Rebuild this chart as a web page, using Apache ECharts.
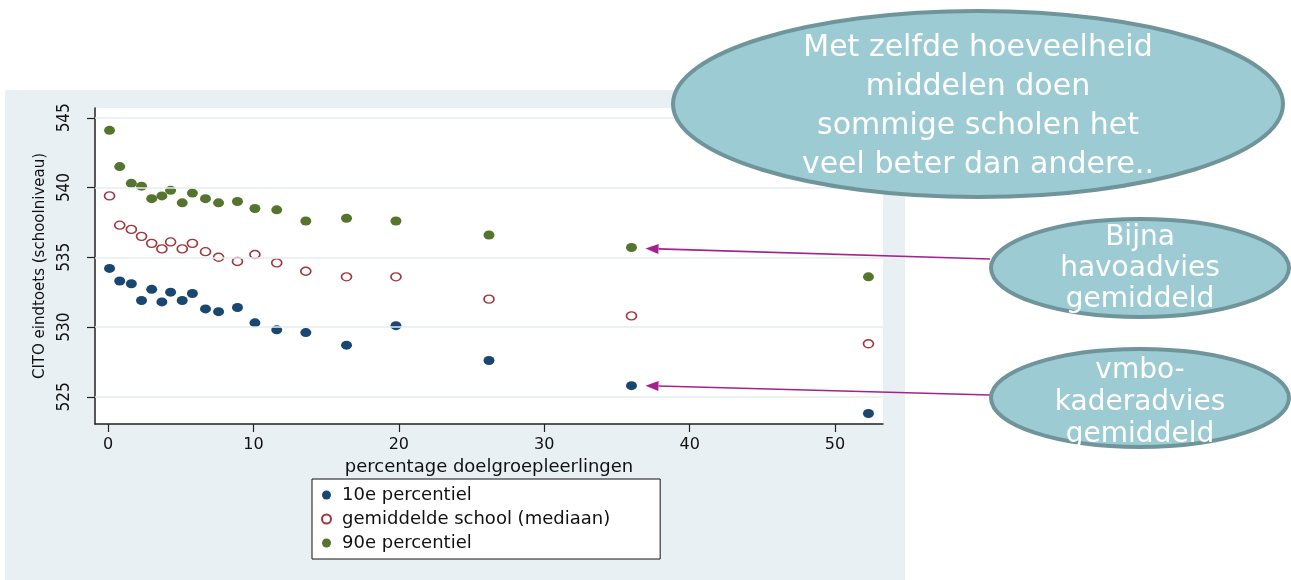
<!DOCTYPE html>
<html>
<head>
<meta charset="utf-8">
<script src="https://cdn.jsdelivr.net/npm/echarts@6/dist/echarts.min.js"></script>
<style>
html,body{margin:0;padding:0;background:#fff;}
#chart{width:1291px;height:580px;}
</style>
</head>
<body>
<div id="chart"></div>
<script>
// x: percentage doelgroepleerlingen
const xValues = [0.1, 0.8, 1.6, 2.3, 3.0, 3.7, 4.3, 5.1, 5.8, 6.7, 7.6, 8.9, 10.1, 11.6, 13.6, 16.4, 19.8, 26.2, 36.0, 52.3];
const p10 = [534.2, 533.3, 533.1, 531.9, 532.7, 531.8, 532.5, 531.9, 532.4, 531.3, 531.1, 531.4, 530.3, 529.8, 529.6, 528.7, 530.1, 527.6, 525.8, 523.8];
const median = [539.4, 537.3, 537.0, 536.5, 536.0, 535.6, 536.1, 535.6, 536.0, 535.4, 535.0, 534.7, 535.2, 534.6, 534.0, 533.6, 533.6, 532.0, 530.8, 528.8];
const p90 = [544.1, 541.5, 540.3, 540.1, 539.2, 539.4, 539.8, 538.9, 539.6, 539.2, 538.9, 539.0, 538.5, 538.4, 537.6, 537.8, 537.6, 536.6, 535.7, 533.6];
const seriesNames = ['10e percentiel', 'gemiddelde school (mediaan)', '90e percentiel'];
const xTicks = [0, 10, 20, 30, 40, 50];
const yTicks = [525, 530, 535, 540, 545];
const bigNote = 'Met zelfde hoeveelheid\nmiddelen doen\nsommige scholen het\nveel beter dan andere..';
const note1 = 'Bijna\nhavoadvies\ngemiddeld';
const note2 = 'vmbo-\nkaderadvies\ngemiddeld';

const pair = (ys) => xValues.map((x, i) => [x, ys[i]]);

const chart = echarts.init(document.getElementById('chart'), null, {renderer: 'canvas'});
const axisFont = 'DejaVu Sans';
const option = {
  animation: false,
  backgroundColor: '#ffffff',
  grid: {left: 95, top: 108, width: 788, height: 316, show: true, backgroundColor: '#ffffff', borderWidth: 0, containLabel: false},
  xAxis: {
    type: 'value', min: -0.9, max: 53.3,
    name: 'percentage doelgroepleerlingen', nameLocation: 'middle', nameGap: 26,
    nameTextStyle: {fontFamily: axisFont, fontSize: 18, color: '#111'},
    axisLine: {show: true, onZero: false, lineStyle: {color: '#222', width: 1.5}},
    axisTick: {show: true, length: 8, customValues: xTicks, lineStyle: {color: '#222', width: 1.2}},
    axisLabel: {customValues: xTicks, margin: 13, fontFamily: axisFont, fontSize: 16, color: '#111'},
    splitLine: {show: false}
  },
  yAxis: {
    type: 'value', min: 523.05, max: 545.7,
    name: 'CITO eindtoets (schoolniveau)', nameLocation: 'middle', nameGap: 43, nameRotate: 90,
    nameTextStyle: {fontFamily: axisFont, fontSize: 15, color: '#111'},
    axisLine: {show: true, onZero: false, lineStyle: {color: '#222', width: 1.5}},
    axisTick: {show: true, length: 8, customValues: yTicks, lineStyle: {color: '#222', width: 1.2}},
    axisLabel: {customValues: yTicks, rotate: 90, margin: 22, fontFamily: 'DejaVu Sans Condensed', fontSize: 17, color: '#111'},
    splitLine: {show: false}
  },
  legend: {
    data: seriesNames,
    orient: 'vertical', left: 312, top: 479,
    backgroundColor: '#ffffff', borderColor: '#111', borderWidth: 1,
    padding: [7, 50, 7, 9], itemGap: 6, itemWidth: 11, itemHeight: 9,
    textStyle: {fontFamily: axisFont, fontSize: 18, color: '#111', lineHeight: 18, padding: [0, 0, 0, 5]}
  },
  series: [
    {
      name: 'grid', type: 'scatter', data: [], z: 1, silent: true,
      markLine: {
        silent: true, symbol: 'none', label: {show: false},
        lineStyle: {color: '#e6edf1', width: 1.5, type: 'solid'},
        data: yTicks.map(v => ({yAxis: v}))
      }
    },
    {name: seriesNames[0], type: 'scatter', z: 3, data: pair(p10), symbol: 'circle', symbolSize: [11, 9],
     itemStyle: {color: '#1a476f', opacity: 1}},
    {name: seriesNames[1], type: 'scatter', z: 3, data: pair(median), symbol: 'circle', symbolSize: [10, 8],
     itemStyle: {color: '#ffffff', borderColor: '#a0363e', borderWidth: 1.5, opacity: 1}},
    {name: seriesNames[2], type: 'scatter', z: 3, data: pair(p90), symbol: 'circle', symbolSize: [11, 9],
     itemStyle: {color: '#55752f', opacity: 1}}
  ]
};
chart.setOption(option);

// annotations
const fill = '#9dcbd3', stroke = '#6f959b', arrowColor = '#a3228e';
function arrow(fromX, fromY, toX, toY) {
  const ang = Math.atan2(fromY - toY, fromX - toX);
  const L = 13, W = 5;
  const bx = toX + L * Math.cos(ang), by = toY + L * Math.sin(ang);
  const nx = -Math.sin(ang), ny = Math.cos(ang);
  return [
    {type: 'line', z: 20, shape: {x1: fromX, y1: fromY, x2: bx, y2: by}, style: {stroke: arrowColor, lineWidth: 1.6}},
    {type: 'polygon', z: 20, shape: {points: [[toX, toY], [bx + nx * W, by + ny * W], [bx - nx * W, by - ny * W]]}, style: {fill: arrowColor}}
  ];
}
const tipA = chart.convertToPixel({gridIndex: 0}, [xValues[18], p90[18]]);
const tipB = chart.convertToPixel({gridIndex: 0}, [xValues[18], p10[18]]);

chart.setOption({
  graphic: [
    {type: 'rect', z: -10, shape: {x: 5, y: 90, width: 900, height: 490}, style: {fill: '#e9f0f3'}},
    ...arrow(990, 259, tipA[0] + 14, tipA[1] + 1),
    ...arrow(990, 395, tipB[0] + 14, tipB[1]),
    {type: 'ellipse', z: 30, shape: {cx: 978, cy: 104, rx: 305, ry: 93}, style: {fill: fill, stroke: stroke, lineWidth: 4}},
    {type: 'text', z: 31, x: 978, y: 107, style: {text: bigNote, fill: '#ffffff', font: '30px "DejaVu Sans"', align: 'center', verticalAlign: 'middle', lineHeight: 39}},
    {type: 'ellipse', z: 30, shape: {cx: 1140, cy: 268, rx: 149, ry: 49}, style: {fill: fill, stroke: stroke, lineWidth: 4}},
    {type: 'text', z: 31, x: 1140, y: 269, style: {text: note1, fill: '#ffffff', font: '28px "DejaVu Sans"', align: 'center', verticalAlign: 'middle', lineHeight: 31}},
    {type: 'ellipse', z: 30, shape: {cx: 1140, cy: 398, rx: 149, ry: 49}, style: {fill: fill, stroke: stroke, lineWidth: 4}},
    {type: 'text', z: 31, x: 1140, y: 403, style: {text: note2, fill: '#ffffff', font: '28px "DejaVu Sans"', align: 'center', verticalAlign: 'middle', lineHeight: 32}}
  ]
});
</script>
</body>
</html>
